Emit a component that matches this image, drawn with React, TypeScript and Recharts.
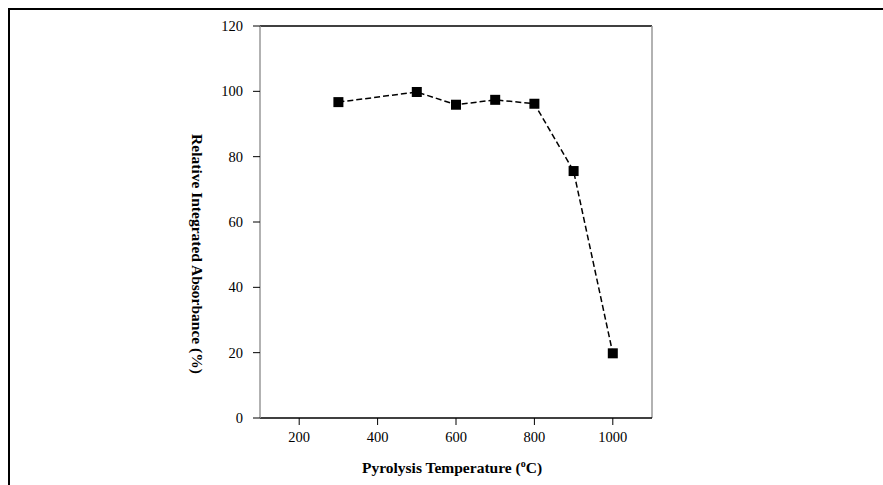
import { LineChart, Line, XAxis, YAxis, Label, ReferenceLine } from 'recharts';

const temperatures = [300, 500, 600, 700, 800, 900, 1000];
const absorbance = [96.7, 99.8, 95.9, 97.4, 96.2, 75.6, 19.8];
const xTicks = [200, 400, 600, 800, 1000];
const yTicks = [0, 20, 40, 60, 80, 100, 120];

const rows = temperatures.map((t, i) => ({ t, value: absorbance[i] }));

const serif = '"Liberation Serif", "Times New Roman", serif';
const tickStyle = { fontSize: 14.5, fill: '#000', fontFamily: serif };

function SquareDot(props: any) {
  const { cx, cy, index } = props;
  if (cx == null || cy == null) return null;
  return <rect key={index} x={cx - 5} y={cy - 5} width={10} height={10} fill="#000" />;
}

function YTitle({ viewBox }: any) {
  const x = 197;
  const y = viewBox.y + viewBox.height / 2 + 32;
  return (
    <text
      x={x}
      y={y}
      transform={`rotate(90, ${x}, ${y})`}
      textAnchor="middle"
      dominantBaseline="central"
      fontFamily={serif}
      fontWeight="bold"
      fontSize={15.5}
      fill="#000"
    >
      Relative Integrated Absorbance (%)
    </text>
  );
}

function XTitle({ viewBox }: any) {
  const x = viewBox.x + viewBox.width / 2 - 4;
  return (
    <text x={x} y={473} textAnchor="middle" fontFamily={serif} fontWeight="bold" fontSize={15.5} fill="#000">
      Pyrolysis Temperature (
      <tspan fontSize={10} dy={-6}>o</tspan>
      <tspan dy={6}>C)</tspan>
    </text>
  );
}

export default function App() {
  return (
    <div style={{ position: 'absolute', left: 0, top: 0, width: 883, height: 485, background: '#fff' }}>
      <div
        style={{
          position: 'absolute',
          left: 8,
          top: 8,
          width: 900,
          height: 500,
          borderTop: '2px solid #000',
          borderLeft: '2px solid #000',
        }}
      />
      <LineChart
        width={883}
        height={485}
        data={rows}
        margin={{ top: 26, right: 231, left: 0, bottom: 0 }}
        style={{ position: 'absolute', left: 0, top: 0 }}
      >
        <XAxis
          dataKey="t"
          type="number"
          domain={[100, 1100]}
          ticks={xTicks}
          height={67}
          tickSize={7}
          tickMargin={7}
          tick={tickStyle}
          stroke="#000"
          axisLine={{ stroke: '#000', strokeWidth: 1.5 }}
          tickLine={{ stroke: '#000' }}
        >
          <Label content={<XTitle />} />
        </XAxis>
        <YAxis
          type="number"
          domain={[0, 120]}
          ticks={yTicks}
          width={260}
          tickSize={7}
          tickMargin={10}
          tick={tickStyle}
          axisLine={{ stroke: '#999', strokeWidth: 1.5 }}
          tickLine={{ stroke: '#000' }}
        >
          <Label content={<YTitle />} />
        </YAxis>
        <ReferenceLine y={120} stroke="#000" strokeWidth={1.5} />
        <ReferenceLine x={1100} stroke="#999" strokeWidth={1.5} />
        <Line
          type="linear"
          dataKey="value"
          stroke="#000"
          strokeWidth={1.5}
          strokeDasharray="6 3"
          dot={<SquareDot />}
          activeDot={false}
          isAnimationActive={false}
        />
      </LineChart>
    </div>
  );
}
